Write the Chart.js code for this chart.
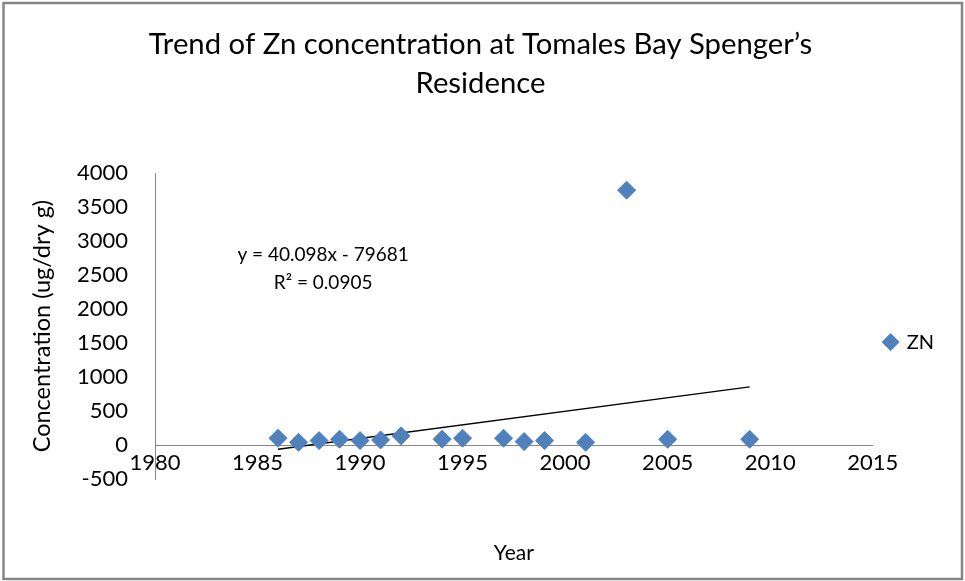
<!DOCTYPE html>
<html><head><meta charset="utf-8">
<script src="https://cdn.jsdelivr.net/npm/chart.js@4.4.0/dist/chart.umd.min.js"></script>
<style>html,body{margin:0;padding:0;background:#fff;}#wrap{width:965px;height:581px;}</style>
</head><body><div id="wrap"><canvas id="c" width="965" height="581"></canvas></div>
<script>
const years = [1986, 1987, 1988, 1989, 1990, 1991, 1992, 1994, 1995, 1997, 1998, 1999, 2001, 2003, 2005, 2009];
const znValues = [100, 40, 65, 85, 65, 75, 135, 85, 100, 100, 50, 65, 40, 3750, 85, 85];
const trendYears = [1986, 2009];
const trendValues = [-62, 855];
const xTickValues = [1980, 1985, 1990, 1995, 2000, 2005, 2010, 2015];
const yTickValues = [-500, 0, 500, 1000, 1500, 2000, 2500, 3000, 3500, 4000];
const titleLines = ['Trend of Zn concentration at Tomales Bay Spenger\u2019s', 'Residence'];
const equationLines = ['y = 40.098x - 79681', 'R\u00B2 = 0.0905'];
const equationAnchorX = 1988.2;
const equationAnchorY = [2800, 2380];
const seriesName = 'ZN';

const FONT = 'Lato, "Open Sans", sans-serif';

const framePlugin = {
  id: 'frame',
  beforeDraw(chart) {
    const ctx = chart.ctx;
    ctx.save();
    ctx.fillStyle = '#ffffff';
    ctx.fillRect(0, 0, chart.width, chart.height);
    ctx.strokeStyle = '#868686';
    ctx.lineWidth = 2.5;
    ctx.strokeRect(3.5, 3, chart.width - 6.5, chart.height - 5);
    ctx.restore();
  }
};

const equationPlugin = {
  id: 'equation',
  afterDatasetsDraw(chart) {
    const ctx = chart.ctx;
    const xs = chart.scales.x, ys = chart.scales.y;
    ctx.save();
    ctx.fillStyle = '#000';
    ctx.font = '19px ' + FONT;
    ctx.textAlign = 'center';
    ctx.textBaseline = 'middle';
    equationLines.forEach((t, i) => {
      ctx.fillText(t, xs.getPixelForValue(equationAnchorX), ys.getPixelForValue(equationAnchorY[i]));
    });
    ctx.restore();
  }
};

new Chart(document.getElementById('c'), {
  type: 'scatter',
  data: {
    datasets: [
      {
        label: seriesName,
        data: years.map((x, i) => ({x: x, y: znValues[i]})),
        pointStyle: 'rectRot',
        pointRadius: 9,
        backgroundColor: '#4F81BD',
        borderColor: '#4F81BD',
        borderWidth: 1
      },
      {
        type: 'line',
        label: 'trend',
        data: trendYears.map((x, i) => ({x: x, y: trendValues[i]})),
        borderColor: '#000000',
        borderWidth: 1.4,
        pointRadius: 0,
        fill: false,
        showLine: true
      }
    ]
  },
  options: {
    responsive: false,
    devicePixelRatio: 1,
    animation: false,
    layout: {padding: {left: 17, right: 21, top: 0, bottom: 102}},
    plugins: {
      tooltip: {enabled: false},
      title: {
        display: true,
        text: titleLines,
        color: '#000',
        font: {family: FONT, size: 29.3, weight: 'normal', lineHeight: 1.3},
        padding: {top: 26, bottom: 71}
      },
      legend: {
        position: 'right',
        fullSize: false,
        title: {display: true, text: ' ', font: {size: 10, lineHeight: 1}, padding: {top: 0, bottom: 22}},
        labels: {
          usePointStyle: true,
          boxWidth: 12,
          boxHeight: 12,
          padding: 12,
          color: '#000',
          font: {family: FONT, size: 20},
          filter: (item) => item.datasetIndex === 0
        }
      }
    },
    scales: {
      x: {
        type: 'linear',
        min: 1980,
        max: 2015,
        position: {y: 0},
        afterBuildTicks: (s) => { s.ticks = xTickValues.map(v => ({value: v})); },
        afterFit: (s) => { s.height = 102; },
        ticks: {color: '#000', font: {family: FONT, size: 22}, padding: 5, maxRotation: 0, autoSkip: false, callback: (v) => String(v)},
        grid: {display: false, drawTicks: false},
        border: {display: true, color: '#868686', width: 1},
        title: {display: true, text: 'Year', color: '#000', font: {family: FONT, size: 21}, padding: {top: 0, bottom: -18.6}}
      },
      y: {
        type: 'linear',
        min: -500,
        max: 4000,
        afterBuildTicks: (s) => { s.ticks = yTickValues.map(v => ({value: v})); },
        afterFit: (s) => { s.width = 138; },
        ticks: {color: '#000', font: {family: FONT, size: 22}, padding: 27, callback: (v) => String(v)},
        grid: {display: false, drawTicks: false},
        border: {display: true, color: '#868686', width: 1},
        title: {display: true, text: 'Concentration (ug/dry g)', color: '#000', font: {family: FONT, size: 23.5}, padding: {top: 11, bottom: 0}}
      }
    }
  },
  plugins: [framePlugin, equationPlugin]
});
</script></body></html>
